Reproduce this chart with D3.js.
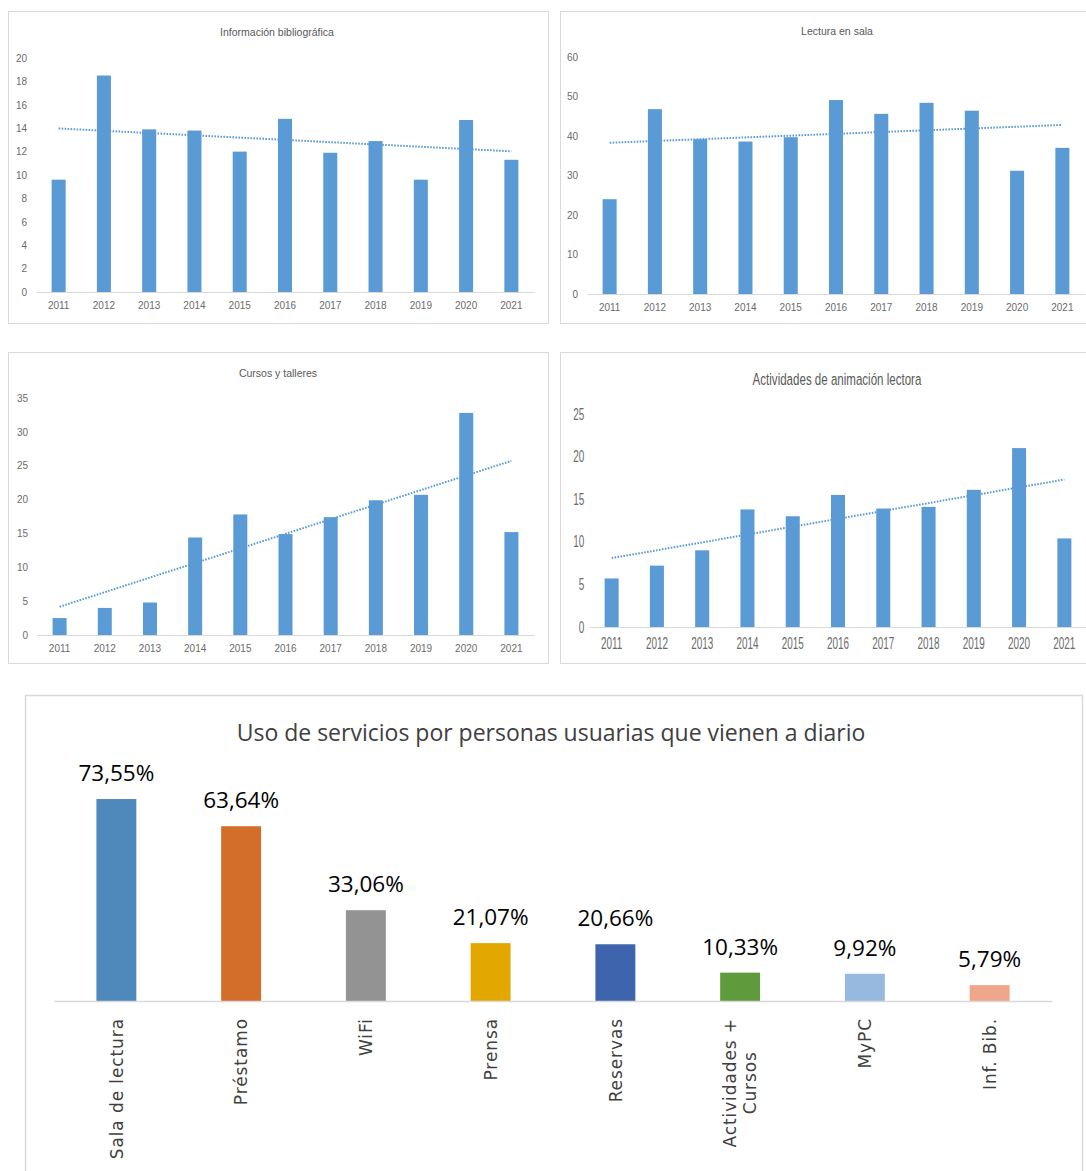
<!DOCTYPE html>
<html>
<head>
<meta charset="utf-8">
<script src="https://cdn.jsdelivr.net/npm/d3@7"></script>
<style>
  body { margin: 0; background: #fff; }
  svg { display: block; }
</style>
</head>
<body>
<svg id="canvas"></svg>
<script>
// datos
const years = ["2011","2012","2013","2014","2015","2016","2017","2018","2019","2020","2021"];

const infBibliografica = [9.6, 18.5, 13.9, 13.8, 12.0, 14.8, 11.9, 12.9, 9.6, 14.7, 11.3];
const lecturaSala = [24.0, 46.8, 39.2, 38.6, 39.7, 49.1, 45.6, 48.4, 46.4, 31.2, 37.0];
const cursosTalleres = [2.5, 4.0, 4.8, 14.4, 17.8, 14.9, 17.4, 19.9, 20.7, 32.8, 15.2];
const animacionLectora = [5.7, 7.2, 9.0, 13.8, 13.0, 15.5, 13.9, 14.1, 16.1, 21.0, 10.4];

const servicios = ["Sala de lectura", "Préstamo", "WiFi", "Prensa", "Reservas",
  "Actividades +\nCursos", "MyPC", "Inf. Bib."];
const porcentajes = [73.55, 63.64, 33.06, 21.07, 20.66, 10.33, 9.92, 5.79];
const coloresServicios = ["#4f88bb", "#d26d2a", "#939393", "#e2a800", "#3d64ad",
  "#5f9a3d", "#97b9e0", "#f0a68a"];

const width = 1086;
const height = 1171;

const canvas = d3.select('#canvas')
  .attr('width', width)
  .attr('height', height);

const barBlue = '#5b9bd5';
const gridGray = '#d9d9d9';
const textGray = '#6b6b6b';

// paneles pequenos
const panels = [
  { title: 'Información bibliográfica', values: infBibliografica, max: 20, step: 2,
    frame: [8, 11, 540, 312], x0: 36, x1: 534, yTop: 58, yBase: 292, titleX: 277, titleY: 36 },
  { title: 'Lectura en sala', values: lecturaSala, max: 60, step: 10,
    frame: [560, 11, 560, 312], x0: 587, x1: 1085, yTop: 57, yBase: 294, titleX: 837, titleY: 35 },
  { title: 'Cursos y talleres', values: cursosTalleres, max: 35, step: 5,
    frame: [8, 352, 540, 311], x0: 37, x1: 534, yTop: 398, yBase: 635, titleX: 278, titleY: 377 },
  { title: 'Actividades de animación lectora', values: animacionLectora, max: 25, step: 5,
    frame: [560, 352, 560, 311], x0: 589, x1: 1087, yTop: 414, yBase: 627, titleX: 837, titleY: 385,
    narrow: true }
];

const drawPanel = (p) => {
  const g = canvas.append('g');

  g.append('rect')
    .attr('x', p.frame[0] + 0.5)
    .attr('y', p.frame[1] + 0.5)
    .attr('width', p.frame[2])
    .attr('height', p.frame[3])
    .attr('fill', '#fff')
    .attr('stroke', gridGray);

  const xScale = d3.scaleBand()
    .domain(years)
    .range([p.x0, p.x1])
    .paddingInner(0.69)
    .paddingOuter(0.345);

  const yScale = d3.scaleLinear()
    .domain([0, p.max])
    .range([p.yBase, p.yTop]);

  const sx = p.narrow ? 0.62 : 1;
  const tickFont = p.narrow ? 16 : 10;

  // eje y
  const yAxis = d3.axisLeft(yScale)
    .tickValues(d3.range(0, p.max + 0.001, p.step))
    .tickSize(0)
    .tickPadding(p.narrow ? 6 : 8);
  const ya = g.append('g')
    .attr('transform', 'translate(' + (p.x0 - 1) + ',0)')
    .call(yAxis);
  ya.select('.domain').remove();
  ya.selectAll('text')
    .attr('fill', textGray)
    .style('font-family', 'Liberation Sans, Arial, sans-serif')
    .style('font-size', tickFont + 'px')
    .attr('transform', 'scale(' + sx + ',1)');

  // barras
  g.selectAll('rect.bar')
    .data(p.values)
    .enter()
    .append('rect')
    .attr('class', 'bar')
    .attr('x', (v, i) => xScale(years[i]))
    .attr('width', xScale.bandwidth())
    .attr('y', v => yScale(v))
    .attr('height', v => yScale(0) - yScale(v))
    .attr('fill', barBlue);

  // eje x
  const xAxis = d3.axisBottom(xScale)
    .tickSize(0)
    .tickPadding(p.narrow ? 11 : 10);
  const xa = g.append('g')
    .attr('transform', 'translate(0,' + p.yBase + ')')
    .call(xAxis);
  xa.select('.domain')
    .attr('stroke', gridGray)
    .attr('stroke-width', 1.2);
  xa.selectAll('text')
    .attr('fill', textGray)
    .style('font-family', 'Liberation Sans, Arial, sans-serif')
    .style('font-size', tickFont + 'px')
    .attr('transform', 'scale(' + sx + ',1)');

  // linea de tendencia (regresion lineal, como en Excel)
  const n = p.values.length;
  const mx = (n - 1) / 2;
  const my = d3.mean(p.values);
  let sxy = 0, sxx = 0;
  p.values.forEach((v, i) => { sxy += (i - mx) * (v - my); sxx += (i - mx) * (i - mx); });
  const slope = sxy / sxx;
  const trend = [0, n - 1].map(i => [xScale(years[i]) + xScale.bandwidth() / 2, yScale(my + slope * (i - mx))]);
  g.append('path')
    .attr('d', d3.line()(trend))
    .attr('fill', 'none')
    .attr('stroke', barBlue)
    .attr('stroke-width', 2)
    .attr('stroke-dasharray', '1.6,1.4');

  // titulo
  const t = g.append('text')
    .attr('text-anchor', 'middle')
    .attr('fill', '#595959')
    .style('font-family', 'Liberation Sans, Arial, sans-serif')
    .style('font-size', p.narrow ? '17px' : '10.5px')
    .text(p.title);
  if (p.narrow) {
    t.attr('transform', 'translate(' + p.titleX + ',' + p.titleY + ') scale(0.68,1)');
  } else {
    t.attr('x', p.titleX).attr('y', p.titleY);
  }
};

panels.forEach(drawPanel);

// grafico grande
const big = canvas.append('g');
const bigFrame = [25, 695, 1057, 520];
const bigX0 = 54, bigX1 = 1052, bigBase = 1001;

big.append('rect')
  .attr('x', bigFrame[0] + 0.5)
  .attr('y', bigFrame[1] + 0.5)
  .attr('width', bigFrame[2])
  .attr('height', bigFrame[3])
  .attr('fill', '#fff')
  .attr('stroke', gridGray)
  .attr('stroke-width', 1.5);

big.append('text')
  .attr('x', 551)
  .attr('y', 741)
  .attr('text-anchor', 'middle')
  .attr('fill', '#404040')
  .style('font-family', 'Open Sans, sans-serif')
  .style('font-size', '23px')
  .text('Uso de servicios por personas usuarias que vienen a diario');

const bx = d3.scaleBand()
  .domain(servicios)
  .range([bigX0, bigX1])
  .paddingInner(0.68)
  .paddingOuter(0.34);

const by = d3.scaleLinear()
  .domain([0, 80])
  .range([bigBase, bigBase - 80 * 2.746]);

big.selectAll('rect.bar')
  .data(porcentajes)
  .enter()
  .append('rect')
  .attr('class', 'bar')
  .attr('x', (v, i) => bx(servicios[i]))
  .attr('width', bx.bandwidth())
  .attr('y', v => by(v))
  .attr('height', v => by(0) - by(v))
  .attr('fill', (v, i) => coloresServicios[i]);

big.selectAll('text.val')
  .data(porcentajes)
  .enter()
  .append('text')
  .attr('class', 'val')
  .attr('x', (v, i) => bx(servicios[i]) + bx.bandwidth() / 2)
  .attr('y', v => by(v) - 18)
  .attr('text-anchor', 'middle')
  .attr('fill', '#000')
  .style('font-family', 'Open Sans, sans-serif')
  .style('font-size', '22.5px')
  .text(v => d3.format('.2f')(v).replace('.', ',') + '%');

const bxAxis = d3.axisBottom(bx).tickSize(0).tickFormat('');
const bxa = big.append('g')
  .attr('transform', 'translate(0,' + bigBase + ')')
  .call(bxAxis);
bxa.select('.domain')
  .attr('stroke', gridGray)
  .attr('stroke-width', 1.5);

// etiquetas de categoria giradas
servicios.forEach((s, i) => {
  const lines = s.split('\n');
  const lg = big.append('g')
    .attr('transform', 'translate(' + (bx(s) + bx.bandwidth() / 2) + ',1018) rotate(-90)');
  const txt = lg.selectAll('text')
    .data(lines)
    .enter()
    .append('text')
    .attr('fill', '#404040')
    .style('font-family', 'DejaVu Sans, sans-serif')
    .style('font-size', '17px')
    .style('letter-spacing', '0.9px')
    .attr('y', (l, k) => (0.36 + (k - (lines.length - 1) / 2) * 1.15) + 'em')
    .text(l => l);
  if (lines.length === 1) {
    txt.attr('text-anchor', 'end').attr('x', 0);
  } else {
    let w = 0;
    txt.each(function () { w = Math.max(w, this.getComputedTextLength()); });
    txt.attr('text-anchor', 'middle').attr('x', -w / 2);
  }
});
</script>
</body>
</html>
